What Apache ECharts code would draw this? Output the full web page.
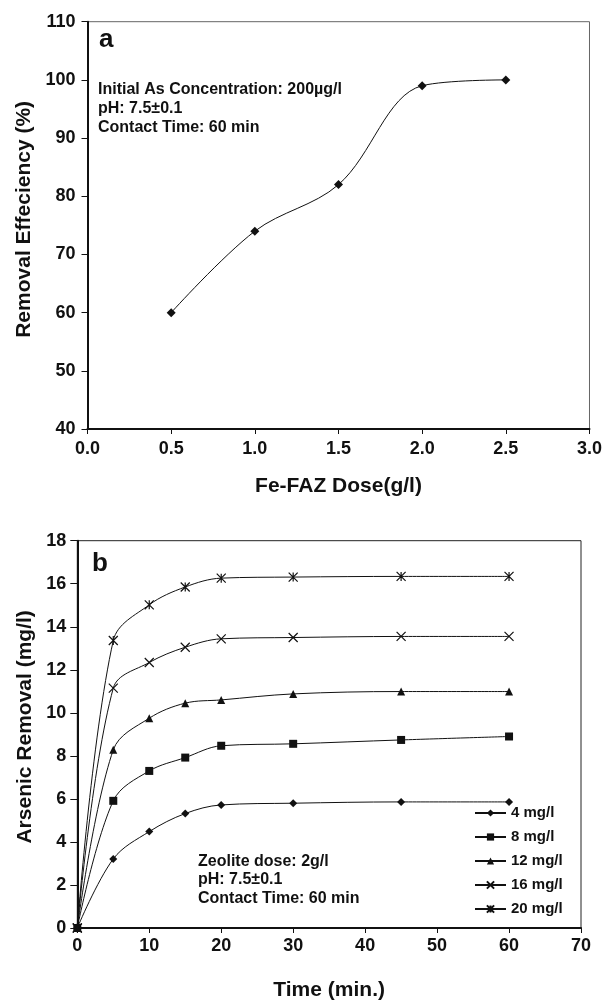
<!DOCTYPE html>
<html>
<head>
<meta charset="utf-8">
<script src="https://cdn.jsdelivr.net/npm/echarts@6/dist/echarts.min.js"></script>
<style>
  html, body { margin: 0; padding: 0; background: #fff; }
  #chart { width: 605px; height: 1002px; }
</style>
</head>
<body>
<div id="chart"></div>
<script>
// (a) removal efficiency vs Fe-FAZ dose
const dose = [0.5, 1.0, 1.5, 2.0, 2.5];
const efficiency = [60, 74, 82, 99, 100];

// (b) arsenic removal vs contact time, one curve per initial concentration
const time = [0, 5, 10, 15, 20, 30, 45, 60];
const conc4 = [0, 3.21, 4.48, 5.32, 5.72, 5.80, 5.86, 5.86];
const conc8 = [0, 5.91, 7.30, 7.92, 8.47, 8.56, 8.74, 8.90];
const conc12 = [0, 8.28, 9.75, 10.45, 10.60, 10.88, 10.99, 10.99];
const conc16 = [0, 11.15, 12.34, 13.05, 13.44, 13.50, 13.55, 13.55];
const conc20 = [0, 13.36, 15.02, 15.85, 16.26, 16.31, 16.34, 16.34];
const seriesNames = ['4 mg/l', '8 mg/l', '12 mg/l', '16 mg/l', '20 mg/l'];

const FONT = "'Liberation Sans', Arial, Helvetica, sans-serif";
const pairs = (xs, ys) => xs.map((x, i) => [x, ys[i]]);

const CROSS = 'path://M0,0L10,10M10,0L0,10';
const STAR = 'path://M0,0L10,10M10,0L0,10M5,0L5,10';

const tickLabel = { fontFamily: FONT, fontWeight: 'bold', fontSize: 18, color: '#111' };
const titleStyle = { fontFamily: FONT, fontWeight: 'bold', fontSize: 21, color: '#111' };

function curve(name, values, symbol, size, stroke) {
  return {
    name: name,
    type: 'line',
    xAxisIndex: 1,
    yAxisIndex: 1,
    data: pairs(time, values),
    smooth: 0.35,
    symbol: symbol,
    symbolSize: size,
    showAllSymbol: true,
    lineStyle: { color: '#111', width: 1 },
    itemStyle: stroke
      ? { color: 'rgba(0,0,0,0)', borderColor: '#111', borderWidth: 1.2 }
      : { color: '#111', borderWidth: 0 },
    emphasis: { disabled: true },
    z: 3
  };
}

const chart = echarts.init(document.getElementById('chart'), null, { renderer: 'canvas' });

chart.setOption({
  animation: false,
  backgroundColor: '#fff',
  grid: [
    { left: 87.5, top: 21.7, right: 13.3, height: 407.3, show: true,
      borderColor: '#666', borderWidth: 1, backgroundColor: 'transparent' },
    { left: 77.3, top: 540.7, right: 24, height: 388.3, show: true,
      borderColor: '#222', borderWidth: 1, backgroundColor: 'transparent' }
  ],
  xAxis: [
    {
      gridIndex: 0, type: 'value', min: 0, max: 3, interval: 0.5,
      name: 'Fe-FAZ Dose(g/l)', nameLocation: 'middle', nameGap: 47,
      nameTextStyle: titleStyle,
      axisLine: { onZero: false, lineStyle: { color: '#111', width: 2 } },
      axisTick: { show: true, length: 5, lineStyle: { color: '#111', width: 1 } },
      axisLabel: Object.assign({ margin: 11, formatter: v => v.toFixed(1) }, tickLabel),
      splitLine: { show: false }
    },
    {
      gridIndex: 1, type: 'value', min: 0, max: 70, interval: 10,
      name: 'Time (min.)', nameLocation: 'middle', nameGap: 52,
      nameTextStyle: titleStyle,
      axisLine: { onZero: false, lineStyle: { color: '#111', width: 2 } },
      axisTick: { show: true, length: 5, lineStyle: { color: '#111', width: 1 } },
      axisLabel: Object.assign({ margin: 9 }, tickLabel),
      splitLine: { show: false }
    }
  ],
  yAxis: [
    {
      gridIndex: 0, type: 'value', min: 40, max: 110, interval: 10,
      name: 'Removal Effeciency (%)', nameLocation: 'middle', nameGap: 52,
      nameRotate: 90,
      nameTextStyle: Object.assign({ padding: [0, 0, 0, 12] }, titleStyle),
      axisLine: { onZero: false, lineStyle: { color: '#111', width: 2 } },
      axisTick: { show: true, length: 6, lineStyle: { color: '#111', width: 1 } },
      axisLabel: Object.assign({ margin: 12 }, tickLabel),
      splitLine: { show: false }
    },
    {
      gridIndex: 1, type: 'value', min: 0, max: 18, interval: 2,
      name: 'Arsenic Removal (mg/l)', nameLocation: 'middle', nameGap: 41,
      nameRotate: 90,
      nameTextStyle: Object.assign({ padding: [0, 0, 0, 15] }, titleStyle),
      axisLine: { onZero: false, lineStyle: { color: '#111', width: 2 } },
      axisTick: { show: true, length: 7, lineStyle: { color: '#111', width: 1 } },
      axisLabel: Object.assign({ margin: 11 }, tickLabel),
      splitLine: { show: false }
    }
  ],
  legend: {
    data: seriesNames,
    orient: 'vertical',
    left: 474,
    top: 805,
    itemWidth: 31,
    itemHeight: 9,
    itemGap: 8,
    padding: 0,
    selectedMode: false,
    textStyle: { fontFamily: FONT, fontWeight: 'bold', fontSize: 15, color: '#111', lineHeight: 16 }
  },
  graphic: [
    { type: 'text', left: 99, top: 27,
      style: { text: 'a', font: 'bold 26px ' + FONT, fill: '#111' } },
    { type: 'text', left: 92, top: 551,
      style: { text: 'b', font: 'bold 26px ' + FONT, fill: '#111' } },
    { type: 'text', left: 98, top: 80,
      style: { text: 'Initial As Concentration: 200µg/l\npH: 7.5±0.1\nContact Time: 60 min',
               font: 'bold 16px ' + FONT, lineHeight: 19, fill: '#111' } },
    { type: 'text', left: 198, top: 852,
      style: { text: 'Zeolite dose: 2g/l\npH: 7.5±0.1\nContact Time: 60 min',
               font: 'bold 16px ' + FONT, lineHeight: 18.5, fill: '#111' } }
  ],
  series: [
    {
      name: 'efficiency',
      type: 'line',
      xAxisIndex: 0,
      yAxisIndex: 0,
      data: pairs(dose, efficiency),
      smooth: 0.35,
      symbol: 'diamond',
      symbolSize: 9,
      lineStyle: { color: '#111', width: 1 },
      itemStyle: { color: '#111' },
      emphasis: { disabled: true }
    },
    curve(seriesNames[0], conc4, 'diamond', 8, false),
    curve(seriesNames[1], conc8, 'rect', 8, false),
    curve(seriesNames[2], conc12, 'triangle', 8, false),
    curve(seriesNames[3], conc16, CROSS, 9, true),
    curve(seriesNames[4], conc20, STAR, 9, true)
  ]
});
</script>
</body>
</html>
